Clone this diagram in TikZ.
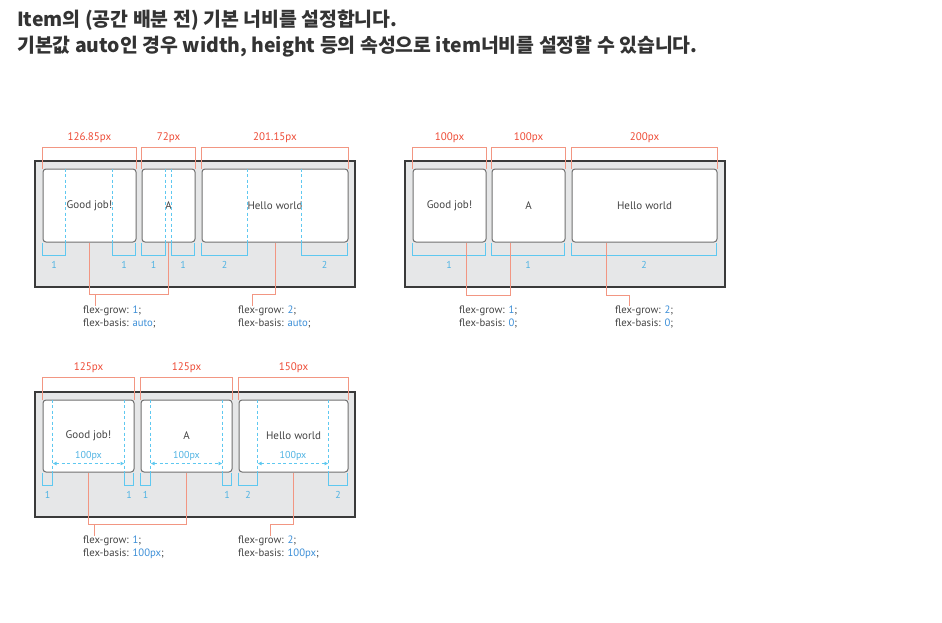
\documentclass[tikz,border=0pt]{standalone}
\usepackage{fontspec}
\setmainfont{PT Sans}
\newfontfamily\krfont{Noto Sans CJK KR}
\usetikzlibrary{calc,arrows.meta}
\definecolor{cfill}{HTML}{E6E7E8}
\definecolor{cborder}{HTML}{3A3A3A}
\definecolor{iborder}{HTML}{707070}
\definecolor{redline}{HTML}{F29682}
\definecolor{redtext}{HTML}{EE4B36}
\definecolor{blueline}{HTML}{5EC8F0}
\definecolor{bluetext}{HTML}{4FB3E3}
\definecolor{codeblue}{HTML}{3C8FD8}
\definecolor{titlecol}{HTML}{333333}
\definecolor{txt}{HTML}{444444}
\newcommand\bbr[4]{%
  \draw[bluebr] ($(#1.south west)+(#2,0)$) -- ++(0,13) -- ++(#3,0) -- ++(0,-13);
  \node[bluelbl] at ($(#1.south west)+({#2+#3/2},22)$) {#4};}
\newcommand\bdash[2]{\draw[bluedash] ($(#1.north west)+(#2,0)$) -- ($(#1.south west)+(#2,0)$);}
\newcommand\rbr[3]{%
  \draw[redbr] (#1.north west) -- ++(0,-#2) -| (#1.north east);
  \node[redlbl] at ($(#1.north)+(0,{-#2-10})$) {#3};}
\begin{document}
\begin{tikzpicture}[x=1pt,y=-1pt,
  container/.style={fill=cfill,draw=cborder,line width=1.8pt},
  itembox/.style={draw=iborder,fill=white,line width=1pt,rounded corners=3pt,inner sep=0pt,font=\fontsize{11}{13}\selectfont,text=txt},
  redbr/.style={draw=redline,line width=0.8pt},
  redlbl/.style={text=redtext,font=\fontsize{11}{13}\selectfont,inner sep=0pt},
  bluebr/.style={draw=blueline,line width=0.9pt},
  bluedash/.style={draw=blueline,line width=0.8pt,dash pattern=on 3pt off 2.5pt},
  bluelbl/.style={text=bluetext,font=\fontsize{10}{12}\selectfont,inner sep=0pt},
  code/.style={text=txt,font=\fontsize{10.7}{13}\selectfont,inner sep=0pt,anchor=north west,align=left},
  conn/.style={draw=redline,line width=0.9pt},
  titletext/.style={anchor=west,inner sep=0pt,text=titlecol,font=\krfont\bfseries\fontsize{19.4}{23}\selectfont}]
\useasboundingbox (0,0) rectangle (942,622);
\fill[white] (0,0) rectangle (942,622);

\node[titletext] (t1) at (17,20) {Item의 (공간 배분 전) 기본 너비를 설정합니다.};
\node[titletext] (t2) at (17,47) {기본값 auto인 경우 width, height 등의 속성으로 item너비를 설정할 수 있습니다.};

% ---------- diagram 1 ----------
\draw[container] (35,161) rectangle (355,287);
\node[itembox,minimum height=73pt,minimum width=93pt] (d1a) at (89.5,205.5) {Good job!};
\node[itembox,minimum height=73pt,minimum width=53pt] (d1b) at (168.5,205.5) {A};
\node[itembox,minimum height=73pt,minimum width=146pt] (d1c) at (275,205.5) {Hello world};
\rbr{d1a}{21}{126.85px}
\rbr{d1b}{21}{72px}
\rbr{d1c}{21}{201.15px}
\bdash{d1a}{23}\bdash{d1a}{70}
\bdash{d1b}{24}\bdash{d1b}{30}
\bdash{d1c}{46}\bdash{d1c}{100}
\bbr{d1a}{0}{23}{1}\bbr{d1a}{70}{23}{1}
\bbr{d1b}{0}{24}{1}\bbr{d1b}{30}{23}{1}
\bbr{d1c}{0}{46}{2}\bbr{d1c}{100}{46}{2}
\node[code] (c1a) at (83,306) {flex-grow: \textcolor{codeblue}{1};\\flex-basis: \textcolor{codeblue}{auto};};
\node[code] (c1b) at (238,306) {flex-grow: \textcolor{codeblue}{2};\\flex-basis: \textcolor{codeblue}{auto};};
\draw[conn] (d1a.south) -- ++(0,52) coordinate (j1) -| (d1b.south);
\coordinate (k1) at ($(j1)+(6,0)$);
\draw[conn] (k1) -- (k1 |- c1a.north);
\draw[conn] (d1c.south) -- ++(0,52) -- ++(-23,0) coordinate (k2) -- (k2 |- c1b.north);

% ---------- diagram 2 ----------
\draw[container] (405,161) rectangle (725,287);
\node[itembox,minimum height=73pt,minimum width=73pt] (d2a) at (449.5,205.5) {Good job!};
\node[itembox,minimum height=73pt,minimum width=73pt] (d2b) at (528.5,205.5) {A};
\node[itembox,minimum height=73pt,minimum width=145pt] (d2c) at (644.5,205.5) {Hello world};
\rbr{d2a}{21}{100px}
\rbr{d2b}{21}{100px}
\rbr{d2c}{21}{200px}
\bbr{d2a}{0}{73}{1}
\bbr{d2b}{0}{73}{1}
\bbr{d2c}{0}{145}{2}
\node[code] (c2a) at (459,306) {flex-grow: \textcolor{codeblue}{1};\\flex-basis: \textcolor{codeblue}{0};};
\node[code] (c2b) at (615,306) {flex-grow: \textcolor{codeblue}{2};\\flex-basis: \textcolor{codeblue}{0};};
\draw[conn] ($(d2a.south west)+(54,0)$) -- ++(0,53) -| ($(d2b.south west)+(19,0)$);
\draw[conn] ($(d2c.south west)+(35,0)$) -- ++(0,53) -- ++(23,0) coordinate (k3) -- (k3 |- c2b.north);

% ---------- diagram 3 ----------
\draw[container] (35,392) rectangle (355,517);
\node[itembox,minimum height=72pt,minimum width=91pt] (d3a) at (88.5,436) {Good job!};
\node[itembox,minimum height=72pt,minimum width=91pt] (d3b) at (186.5,436) {A};
\node[itembox,minimum height=72pt,minimum width=109pt] (d3c) at (293.5,436) {Hello world};
\rbr{d3a}{22}{125px}
\rbr{d3b}{22}{125px}
\rbr{d3c}{22}{150px}
\bdash{d3a}{10}\bdash{d3a}{82}
\bdash{d3b}{10}\bdash{d3b}{82}
\bdash{d3c}{19}\bdash{d3c}{90}
\bbr{d3a}{0}{10}{1}\bbr{d3a}{82}{9}{1}
\bbr{d3b}{0}{10}{1}\bbr{d3b}{82}{9}{1}
\bbr{d3c}{0}{19}{2}\bbr{d3c}{90}{19}{2}
\foreach \n/\a/\b in {d3a/10/82,d3b/10/82,d3c/19/90}{
  \draw[bluedash,line width=1pt,{Latex[length=4pt,width=4pt]}-{Latex[length=4pt,width=4pt]}] ($(\n.south west)+(\a,-9)$) -- ($(\n.south west)+(\b,-9)$);
  \node[bluelbl] at ($(\n.south west)+({(\a+\b)/2},-17)$) {100px};
}
\node[code] (c3a) at (83,536) {flex-grow: \textcolor{codeblue}{1};\\flex-basis: \textcolor{codeblue}{100px};};
\node[code] (c3b) at (238,536) {flex-grow: \textcolor{codeblue}{2};\\flex-basis: \textcolor{codeblue}{100px};};
\draw[conn] (d3a.south) -- ++(0,52) coordinate (j5) -| (d3b.south);
\coordinate (k5) at ($(j5)+(6,0)$);
\draw[conn] (k5) -- (k5 |- c3a.north);
\draw[conn] (d3c.south) -- ++(0,52) -- ++(-23,0) coordinate (k6) -- (k6 |- c3b.north);
\end{tikzpicture}
\end{document}
